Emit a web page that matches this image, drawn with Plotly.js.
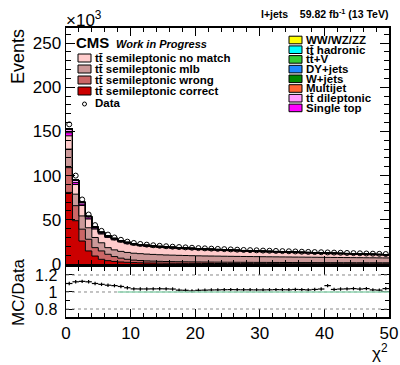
<!DOCTYPE html>
<html>
<head>
<meta charset="utf-8">
<script src="https://cdn.plot.ly/plotly-3.0.1.min.js"></script>
<style>html,body{margin:0;padding:0;background:#fff;}#chart{width:400px;height:365px;}</style>
</head>
<body>
<div id="chart"></div>
<script>
// bin edges of the chi2 histogram (50 bins of width 1)
const binEdges = [0,1,2,3,4,5,6,7,8,9,10,11,12,13,14,15,16,17,18,19,20,21,22,23,24,25,26,27,28,29,30,31,32,33,34,35,36,37,38,39,40,41,42,43,44,45,46,47,48,49,50];

// values in units of 10^3 events
const ttCorrect = [81,49,26,14.8,9,5.3,3.8,2.9,2.3,1.9,1.6,1.4,1.2,1.1,1.0,0.9,0.85,0.8,0.75,0.7,0.65,0.6,0.58,0.55,0.52,0.5,0.48,0.46,0.44,0.42,0.4,0.39,0.38,0.37,0.36,0.35,0.34,0.33,0.32,0.31,0.3,0.29,0.28,0.28,0.27,0.26,0.26,0.25,0.25,0.24];
const ttWrong = [28,17,13.4,13.2,9.5,9.5,7.2,5.5,4.3,3.4,2.8,2.5,2.3,2.15,2.0,1.9,1.85,1.8,1.75,1.7,1.65,1.6,1.58,1.55,1.52,1.5,1.48,1.46,1.44,1.42,1.4,1.38,1.36,1.34,1.32,1.3,1.28,1.27,1.26,1.25,1.24,1.23,1.22,1.21,1.2,1.19,1.18,1.17,1.16,1.15];
const ttMlb = [21,13,15,13,11.5,9.2,7.5,7.6,7.7,7.8,7.8,7.8,7.7,7.6,7.5,7.4,7.3,7.2,7.1,7.0,6.95,6.9,6.85,6.8,6.75,6.7,6.65,6.6,6.55,6.5,6.45,6.4,6.35,6.3,6.25,6.2,6.15,6.1,6.05,6.0,5.95,5.9,5.85,5.8,5.75,5.7,5.65,5.6,5.55,5.5];
const ttNoMatch = [15,10.9,11.8,9.9,9.5,9.9,11.6,11.3,10.6,9.9,9.4,8.9,8.7,8.4,8.2,8.1,7.8,7.6,7.45,7.3,7.05,6.9,6.7,6.55,6.4,6.2,6.0,5.8,5.7,5.6,5.4,5.3,5.2,5.1,5.0,4.9,4.7,4.6,4.45,4.35,4.2,4.1,4.0,3.9,3.75,3.6,3.5,3.4,3.25,3.1];
const singleTop = [3.5,2.2,1.6,1.3,1.05,0.9,0.8,0.72,0.66,0.62,0.58,0.55,0.53,0.51,0.5,0.49,0.48,0.47,0.46,0.45,0.44,0.43,0.42,0.41,0.4,0.4,0.39,0.38,0.37,0.37,0.36,0.35,0.35,0.34,0.33,0.33,0.32,0.32,0.31,0.3,0.3,0.29,0.29,0.28,0.28,0.27,0.27,0.26,0.26,0.25];
const ttDilep = [4,2.6,2,1.6,1.3,1.1,1.0,0.9,0.85,0.8,0.75,0.72,0.7,0.68,0.66,0.64,0.62,0.6,0.59,0.58,0.57,0.56,0.55,0.54,0.53,0.52,0.51,0.5,0.49,0.48,0.47,0.46,0.45,0.44,0.43,0.42,0.41,0.4,0.4,0.39,0.38,0.38,0.37,0.36,0.36,0.35,0.35,0.34,0.34,0.33];
const multijet = [0.15,0.1,0.06,0.06,0.05,0.03,0.03,0.03,0.03,0.03,0.03,0.03,0.03,0.03,0.03,0.03,0.03,0.03,0.03,0.03,0.03,0.03,0.03,0.03,0.03,0.03,0.03,0.03,0.03,0.03,0.03,0.03,0.03,0.03,0.03,0.03,0.03,0.03,0.03,0.03,0.03,0.03,0.03,0.03,0.03,0.03,0.03,0.03,0.03,0.03];
const wJets = [0.2,0.1,0.07,0.07,0.05,0.04,0.04,0.04,0.04,0.04,0.04,0.04,0.04,0.04,0.04,0.04,0.04,0.04,0.04,0.04,0.04,0.04,0.04,0.04,0.04,0.04,0.04,0.04,0.04,0.04,0.04,0.04,0.04,0.04,0.04,0.04,0.04,0.04,0.04,0.04,0.04,0.04,0.04,0.04,0.04,0.04,0.04,0.04,0.04,0.04];
const dyJets = [0.05,0.03,0.02,0.02,0.01,0.01,0.01,0.01,0.01,0.01,0.01,0.01,0.01,0.01,0.01,0.01,0.01,0.01,0.01,0.01,0.01,0.01,0.01,0.01,0.01,0.01,0.01,0.01,0.01,0.01,0.01,0.01,0.01,0.01,0.01,0.01,0.01,0.01,0.01,0.01,0.01,0.01,0.01,0.01,0.01,0.01,0.01,0.01,0.01,0.01];
const ttV = [0.05,0.03,0.02,0.02,0.01,0.01,0.01,0.01,0.01,0.01,0.01,0.01,0.01,0.01,0.01,0.01,0.01,0.01,0.01,0.01,0.01,0.01,0.01,0.01,0.01,0.01,0.01,0.01,0.01,0.01,0.01,0.01,0.01,0.01,0.01,0.01,0.01,0.01,0.01,0.01,0.01,0.01,0.01,0.01,0.01,0.01,0.01,0.01,0.01,0.01];
const ttHad = [0.05,0.03,0.02,0.02,0.01,0.01,0.01,0.01,0.01,0.01,0.01,0.01,0.01,0.01,0.01,0.01,0.01,0.01,0.01,0.01,0.01,0.01,0.01,0.01,0.01,0.01,0.01,0.01,0.01,0.01,0.01,0.01,0.01,0.01,0.01,0.01,0.01,0.01,0.01,0.01,0.01,0.01,0.01,0.01,0.01,0.01,0.01,0.01,0.01,0.01];
const diboson = [0.02,0.01,0.01,0.01,0.01,0.01,0.01,0.01,0.01,0.01,0.01,0.01,0.01,0.01,0.01,0.01,0.01,0.01,0.01,0.01,0.01,0.01,0.01,0.01,0.01,0.01,0.01,0.01,0.01,0.01,0.01,0.01,0.01,0.01,0.01,0.01,0.01,0.01,0.01,0.01,0.01,0.01,0.01,0.01,0.01,0.01,0.01,0.01,0.01,0.01];
const dataVals = [158,100,73,56,44,37.5,33.3,30,27.4,25.3,23.8,22.7,21.9,21.2,20.6,20.1,19.6,19.2,18.8,18.4,18.0,17.7,17.4,17.1,16.8,16.5,16.2,15.9,15.7,15.5,15.2,15.0,14.8,14.6,14.4,14.2,13.9,13.7,13.5,13.3,13.1,12.9,12.7,12.5,12.3,12.1,11.9,11.7,11.5,11.3];
const ratioVals = [1.10,1.12,1.125,1.12,1.10,1.09,1.08,1.075,1.065,1.05,1.037,1.036,1.036,1.037,1.038,1.037,1.035,1.022,1.02,1.012,1.02,1.022,1.024,1.025,1.027,1.028,1.027,1.026,1.026,1.025,1.025,1.026,1.028,1.027,1.026,1.03,1.028,1.025,1.03,1.035,1.075,1.03,1.035,1.037,1.04,1.035,1.04,1.025,1.022,1.04];
const ratioErr = [0.02,0.02,0.02,0.02,0.02,0.02,0.02,0.02,0.02,0.02,0.02,0.02,0.02,0.02,0.02,0.02,0.02,0.02,0.02,0.02,0.02,0.02,0.02,0.02,0.02,0.02,0.02,0.02,0.02,0.02,0.02,0.02,0.02,0.02,0.02,0.02,0.02,0.02,0.02,0.02,0.02,0.02,0.02,0.02,0.02,0.02,0.02,0.02,0.02,0.02];

const mcSeries = [
  {name: 'tt semileptonic correct', vals: ttCorrect, color: '#cc0000'},
  {name: 'tt semileptonic wrong', vals: ttWrong, color: '#cc6666'},
  {name: 'tt semileptonic mlb', vals: ttMlb, color: '#cc9999'},
  {name: 'tt semileptonic no match', vals: ttNoMatch, color: '#ffcccc'},
  {name: 'Single top', vals: singleTop, color: '#ff00ff'},
  {name: 'tt dileptonic', vals: ttDilep, color: '#ff99ff'},
  {name: 'Multijet', vals: multijet, color: '#ff6633'},
  {name: 'W+jets', vals: wJets, color: '#008800'},
  {name: 'DY+jets', vals: dyJets, color: '#1e88ff'},
  {name: 'tt+V', vals: ttV, color: '#33cc33'},
  {name: 'tt hadronic', vals: ttHad, color: '#00ffff'},
  {name: 'WW/WZ/ZZ', vals: diboson, color: '#ffff00'}
];

function stepY(a){ return a.concat([a[a.length-1]]); }
const centers = binEdges.slice(0,-1).map((e,i)=> (e + binEdges[i+1]) / 2);

const traces = mcSeries.map(s => ({
  type: 'scatter', mode: 'lines', x: binEdges, y: stepY(s.vals), name: s.name,
  stackgroup: 'mc', line: {shape: 'hv', color: '#000', width: 1},
  fillcolor: s.color, xaxis: 'x2', yaxis: 'y2', hoverinfo: 'skip', showlegend: false
}));
traces.push({
  type: 'scatter', mode: 'markers', x: centers, y: dataVals, xaxis: 'x2', yaxis: 'y2', name: 'Data',
  marker: {symbol: 'circle-open', size: 5, color: '#000', line: {width: 1, color: '#000'}},
  showlegend: false, hoverinfo: 'skip'
});
traces.push({
  type: 'scatter', mode: 'markers', x: centers, y: ratioVals, xaxis: 'x', yaxis: 'y',
  marker: {size: 1, color: '#000'},
  error_x: {type: 'constant', value: 0.5, width: 0, color: '#000', thickness: 1.2},
  error_y: {type: 'data', array: ratioErr, width: 0, color: '#000', thickness: 1.2},
  showlegend: false, hoverinfo: 'skip'
});

const F = 'Liberation Sans, Arial, sans-serif';
const xd = [66/400, 389/400];
const ann = [];
const shapes = [];
function px(x){ return x/400; }
function py(y){ return 1 - y/365; }
function addText(x, y, text, size, opts){
  ann.push(Object.assign({xref:'paper', yref:'paper', x:px(x), y:py(y), text:text, showarrow:false,
    xanchor:'left', yanchor:'middle', font:{family:F, size:size, color:'#000'}}, opts||{}));
}
addText(380, 352, '\u03c7<sup>2</sup>', 17, {xanchor:'center'});
addText(18, 57, 'Events', 18, {xanchor:'center', textangle:-90});
addText(18, 292, 'MC/Data', 17, {xanchor:'center', textangle:-90});
addText(64, 19, '\u00d710<sup>3</sup>', 17);
addText(390, 14, '<b>l+jets    59.82 fb<sup>-1</sup> (13 TeV)</b>', 10.5, {xanchor:'right'});
addText(74, 43, '<b>CMS</b>', 15);
addText(114, 44, '<b><i>Work in Progress</i></b>', 11);

// left legend
const leftLeg = [
  {label: 'tt\u0304 semileptonic no match', color: '#ffcccc', y: 58},
  {label: 'tt\u0304 semileptonic mlb', color: '#cc9999', y: 69},
  {label: 'tt\u0304 semileptonic wrong', color: '#cc6666', y: 80},
  {label: 'tt\u0304 semileptonic correct', color: '#cc0000', y: 91}
];
leftLeg.forEach(l => {
  shapes.push({type:'rect', xref:'paper', yref:'paper', x0:px(78), x1:px(91), y0:py(l.y-4), y1:py(l.y+4),
    fillcolor:l.color, line:{color:'#000', width:1}});
  addText(93, l.y, '<b>' + l.label + '</b>', 11.5);
});
shapes.push({type:'circle', xref:'paper', yref:'paper', x0:px(82.5), x1:px(86.5), y0:py(102), y1:py(106),
  line:{color:'#000', width:1}});
addText(93, 103, '<b>Data</b>', 11.5);

const rightLeg = [
  {label:'WW/WZ/ZZ', color:'#ffff00'},
  {label:'tt\u0304 hadronic', color:'#00ffff'},
  {label:'tt\u0304+V', color:'#33cc33'},
  {label:'DY+jets', color:'#1e88ff'},
  {label:'W+jets', color:'#008800'},
  {label:'Multijet', color:'#ff6633'},
  {label:'tt\u0304 dileptonic', color:'#ff99ff'},
  {label:'Single top', color:'#ff00ff'}
];
rightLeg.forEach((l,i) => {
  const y = 40 + i*9.7;
  shapes.push({type:'rect', xref:'paper', yref:'paper', x0:px(289), x1:px(302), y0:py(y-3.8), y1:py(y+3.8),
    fillcolor:l.color, line:{color:'#000', width:1}});
  addText(304, y, '<b>' + l.label + '</b>', 11.5);
});

// ratio reference lines
[0.8, 1.0, 1.2].forEach(v => shapes.push({type:'line', xref:'x', yref:'y', x0:0, x1:50, y0:v, y1:v,
  line:{color:'#888', width:1, dash:'dot'}}));
shapes.push({type:'line', xref:'x', yref:'y', x0:8, x1:50, y0:1, y1:1, line:{color:'#8fd3b0', width:1.5}});

const axBase = {showgrid:false, zeroline:false, showline:true, linecolor:'#000', linewidth:1.5,
  ticks:'inside', tickcolor:'#000', tickwidth:1, mirror:'allticks',
  tickfont:{family:F, size:17, color:'#000'}};

const layout = {
  width:400, height:365, margin:{l:0, r:0, t:0, b:0}, paper_bgcolor:'#fff', plot_bgcolor:'#fff',
  showlegend:false,
  xaxis: Object.assign({}, axBase, {domain:xd, anchor:'y', range:[0,50], dtick:10, ticklen:8,
    minor:{dtick:2, ticklen:4, ticks:'inside', tickcolor:'#000'}}),
  yaxis: Object.assign({}, axBase, {domain:[0.1315, 0.2685], anchor:'x', range:[0.706,1.294],
    tick0:0.8, dtick:0.2, ticklen:8, ticklabelstandoff:4, tickfont:{family:F, size:16, color:'#000'},
    minor:{dtick:0.1, ticklen:4, ticks:'inside', tickcolor:'#000'}}),
  xaxis2: Object.assign({}, axBase, {domain:xd, anchor:'y2', matches:'x', range:[0,50], dtick:10, ticklen:8,
    showticklabels:false, minor:{dtick:2, ticklen:4, ticks:'inside', tickcolor:'#000'}}),
  yaxis2: Object.assign({}, axBase, {domain:[0.2767, 0.9233], anchor:'x2', range:[0,267], dtick:50, ticklen:9,
    minor:{dtick:10, ticklen:5, ticks:'inside', tickcolor:'#000'}}),
  annotations: ann,
  shapes: shapes
};

Plotly.newPlot('chart', traces, layout, {staticPlot:true, displayModeBar:false});
</script>
</body>
</html>
